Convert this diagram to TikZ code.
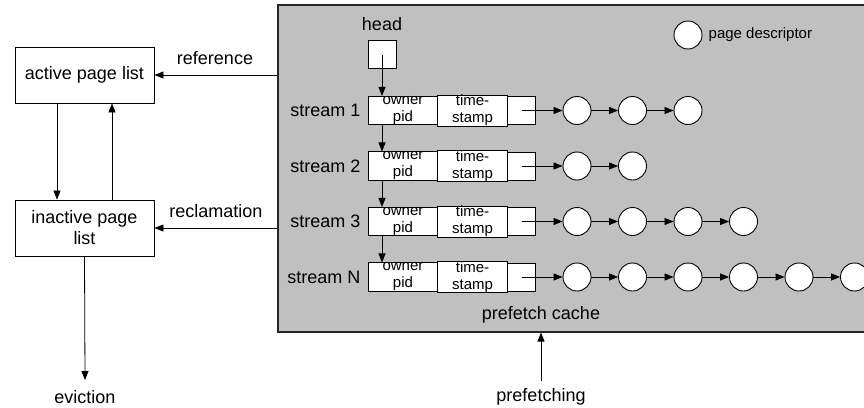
\documentclass[tikz,border=0pt]{standalone}
\usepackage{fontspec}
\setmainfont{Liberation Sans}
\usetikzlibrary{arrows.meta}
\definecolor{cachegray}{HTML}{C0C0C0}
\begin{document}
\begin{tikzpicture}[x=1pt,y=-1pt,
  every node/.style={font=\fontsize{18}{20}\selectfont},
  lbl/.style={inner sep=0},
  box/.style={draw=black, line width=0.9pt, fill=white, inner sep=0},
  listbox/.style={box, minimum width=139pt, minimum height=56pt, align=center},
  cell/.style={box, minimum width=70pt, minimum height=28pt, align=center,
    font=\fontsize{15}{17}\selectfont},
  ptr/.style={box, minimum width=28pt, minimum height=28pt},
  pd/.style={draw=black, line width=0.9pt, fill=white, circle, minimum size=28pt, inner sep=0},
  arr/.style={-{Triangle[length=9pt,width=7pt]}, line width=0.8pt},
]
\useasboundingbox (0,0) rectangle (864,407);
\clip (0,0) rectangle (864,407);

% prefetch cache area (runs past the right edge)
\node[draw=black!85, line width=1.1pt, fill=cachegray, minimum width=604pt,
  minimum height=327pt, inner sep=0] (cache) at (580,168.5) {};
\node[lbl] (pclabel) at (541,315) {prefetch cache};

% page lists
\node[listbox] (active) at (84.5,75) {active page list};
\node[listbox, font=\fontsize{18}{21}\selectfont] (inactive) at (84.5,228) {inactive page\\list};

\draw[arr] ([xshift=-27.5pt]active.south) -- ([xshift=-27.5pt]inactive.north);
\draw[arr] ([xshift=27.5pt]inactive.north) -- ([xshift=27.5pt]active.south);

\draw[arr] (cache.west |- active.east) -- (active.east);
\node[lbl] (reflabel) at (215,58) {reference};
\draw[arr] (cache.west |- inactive.east) -- (inactive.east);
\node[lbl] (reclabel) at (216,211) {reclamation};

% eviction and prefetching
\node[lbl] (ev) at (85,397) {eviction};
\coordinate (evend) at (85,380);
\draw[arr] (inactive.south) -- (evend);
\node[lbl] (pf) at (541,397) {prefetching};
\coordinate (pfstart) at (541,381);
\draw[arr] (pfstart) -- (cache.south -| pfstart);

% legend
\node[pd] (legend) at (688,35) {};
\node[lbl, anchor=west, font=\fontsize{15}{17}\selectfont] (legtext) at ([xshift=6pt]legend.east) {page descriptor};

% head pointer
\node[lbl] (headlabel) at (382,24) {head};
\node[ptr] (head) at (382,54.5) {};

% streams
\foreach \i/\y/\lab/\n in {1/110.5/stream 1/3, 2/166/stream 2/2, 3/221.5/stream 3/4, 4/277/stream N/6} {
  \node[cell] (o\i) at (403,\y) {owner\\pid};
  \node[cell] (t\i) at (472.5,\y) {time-\\stamp};
  \node[ptr] (p\i) at (521.5,\y) {};
  \node[lbl, anchor=east] (sl\i) at ([xshift=-7pt]o\i.west) {\lab};
  \foreach \k in {1,...,\n}
    \node[pd] (c\i-\k) at ({577+55.5*(\k-1)},\y) {};
  \draw[arr] (p\i.center) -- (c\i-1.west);
  \foreach \k in {2,...,\n} {
    \pgfmathtruncatemacro\pk{\k-1}
    \draw[arr] (c\i-\pk.east) -- (c\i-\k.west);
  }
}

\draw[arr] (head.center) -- (head.center |- o1.north);
\draw[arr] (o1.south -| head.center) -- (o2.north -| head.center);
\draw[arr] (o2.south -| head.center) -- (o3.north -| head.center);
\draw[arr] (o3.south -| head.center) -- (o4.north -| head.center);
\end{tikzpicture}
\end{document}
